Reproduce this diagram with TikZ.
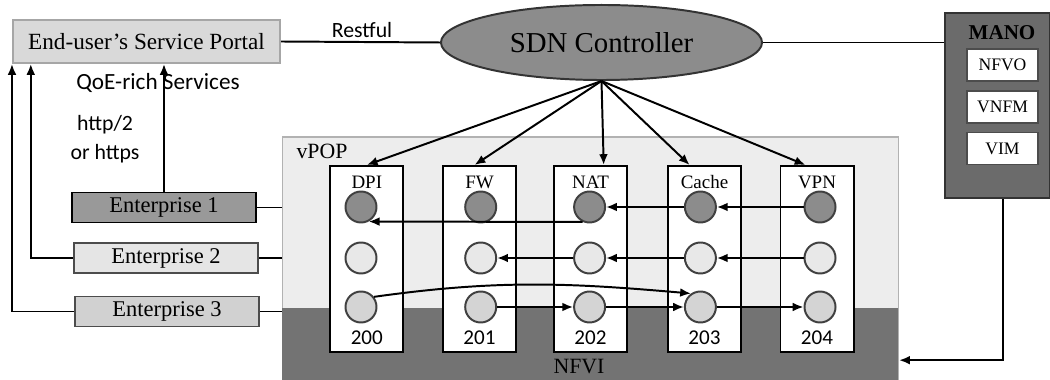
\documentclass[tikz,border=0pt]{standalone}
\usepackage{fontspec}
\setmainfont{Liberation Serif}
\newfontfamily\calfont{Carlito}
\usepackage{tikz}
\usetikzlibrary{arrows.meta,shapes.geometric}

\begin{document}
\begin{tikzpicture}[x=0.025cm, y=0.025cm, line width=1.4pt,
    vnfbox/.style={draw, fill=white, minimum width=1.825cm, minimum height=4.65cm},
    vnflbl/.style={font=\fontsize{13.5}{16}\selectfont},
    vnfnum/.style={font=\calfont\fontsize{15}{18}\selectfont},
    port/.style={circle, draw=black!75, inner sep=0pt, minimum size=0.775cm},
    entbox/.style={draw, minimum width=4.6cm, minimum height=0.75cm, font=\fontsize{16}{19}\selectfont},
    manobox/.style={draw=black!70, fill=white, minimum width=1.775cm, minimum height=0.8cm, font=\fontsize{12.5}{15}\selectfont},
    flow/.style={-{Latex[length=0.27cm,width=0.22cm]}}]
    \useasboundingbox (0,0) rectangle (1050,380);

    % portal, controller and MANO
    \node[draw=black!35, fill=black!15, minimum width=6.675cm, minimum height=1.075cm, font=\fontsize{16.5}{19}\selectfont] (portal) at (146.5,338.5) {End-user's Service Portal};
    \node[ellipse, draw=black!80, fill=black!45, minimum width=8.025cm, minimum height=1.875cm, font=\fontsize{20.5}{24}\selectfont] (ctrl) at (601.5,337.5) {SDN Controller};
    \node[font=\calfont\fontsize{15.5}{18}\selectfont] (rest) at (362,350) {Restful};
    \draw (portal.east) -- (ctrl.west);

    \node[draw=black!80, fill=black!58, minimum width=2.625cm, minimum height=4.625cm] (mano) at (997.5,274.5) {};
    \node[font=\bfseries\fontsize{15}{18}\selectfont] (manolbl) at (1002,347) {MANO};
    \node[manobox] (nfvo) at (1002.5,315) {NFVO};
    \node[manobox] (vnfm) at (1002.5,273) {VNFM};
    \node[manobox] (vim) at (1002.5,231.5) {VIM};
    \draw (ctrl.east) -- (ctrl.east -| mano.west);

    % vPOP over the NFVI
    \node[draw=black!30, line width=0.8pt, fill=black!7, minimum width=15.39cm, minimum height=6.075cm] (vpop) at (590.25,121.5) {};
    \node[fill=black!55, minimum width=15.39cm, minimum height=1.8cm] (nfvi) at (590.25,36) {};
    \node[font=\fontsize{15.5}{18}\selectfont] (vpoplbl) at (322,229) {vPOP};
    \node[font=\fontsize{15.5}{18}\selectfont] (nfvilbl) at (579,13) {NFVI};
    \draw[flow] (nfvo.south |- mano.south) |- (nfvi.-3);

    \node[vnfbox] (dpi) at (366.8,121) {};
    \node[vnfbox] (fw) at (479.5,121) {};
    \node[vnfbox] (nat) at (590.5,121) {};
    \node[vnfbox] (cache) at (704.5,121) {};
    \node[vnfbox] (vpn) at (817,121) {};
    \node[vnflbl] (dpilbl) at (366.8,198) {DPI};
    \node[vnflbl] (fwlbl) at (479.5,198) {FW};
    \node[vnflbl] (natlbl) at (590.5,198) {NAT};
    \node[vnflbl] (cachelbl) at (704.5,198) {Cache};
    \node[vnflbl] (vpnlbl) at (817,198) {VPN};
    \node[vnfnum] (dpinum) at (366.8,42) {200};
    \node[vnfnum] (fwnum) at (479.5,42) {201};
    \node[vnfnum] (natnum) at (590.5,42) {202};
    \node[vnfnum] (cachenum) at (704.5,42) {203};
    \node[vnfnum] (vpnnum) at (817,42) {204};

    % ports, three chains
    \node[port, fill=black!45] (dpi1) at (361,173) {};
    \node[port, fill=black!45] (fw1) at (480.7,173) {};
    \node[port, fill=black!45] (nat1) at (589.6,173) {};
    \node[port, fill=black!45] (cache1) at (700.4,173) {};
    \node[port, fill=black!45] (vpn1) at (820,173) {};
    \node[port, fill=black!9] (dpi2) at (361,122) {};
    \node[port, fill=black!9] (fw2) at (480.7,122) {};
    \node[port, fill=black!9] (nat2) at (589.6,122) {};
    \node[port, fill=black!9] (cache2) at (700.4,122) {};
    \node[port, fill=black!9] (vpn2) at (820,122) {};
    \node[port, fill=black!17] (dpi3) at (361,73) {};
    \node[port, fill=black!17] (fw3) at (480.7,73) {};
    \node[port, fill=black!17] (nat3) at (589.6,73) {};
    \node[port, fill=black!17] (cache3) at (700.4,73) {};
    \node[port, fill=black!17] (vpn3) at (820,73) {};

    \draw[flow] (ctrl.south) -- (dpi.north);
    \draw[flow] (ctrl.south) -- (fw.93);
    \draw[flow] (ctrl.south) -- (nat.82);
    \draw[flow] (ctrl.south) -- (cache.99);
    \draw[flow] (ctrl.south) -- (vpn.97);

    \draw[flow] (vpn1) -- (cache1);
    \draw[flow] (cache1) -- (nat1);
    \draw[flow] (nat1.245) -- (dpi1.-62);
    \draw[flow] (vpn2) -- (cache2);
    \draw[flow] (cache2) -- (nat2);
    \draw[flow] (nat2) -- (fw2);
    \draw[flow] (fw3) -- (nat3);
    \draw[flow] (nat3) -- (cache3);
    \draw[flow] (cache3) -- (vpn3);
    \draw[flow] (dpi3.38) to[out=8,in=175] (cache3.125);

    % enterprises
    \node[entbox, fill=black!40] (ent1) at (164,172.5) {Enterprise 1};
    \node[entbox, draw=black!70, fill=black!10] (ent2) at (166,122) {Enterprise 2};
    \node[entbox, draw=black!70, fill=black!18] (ent3) at (167,68.5) {Enterprise 3};
    \draw (ent1.east) -- (ent1.east -| vpop.west);
    \draw (ent2.east) -- (ent2.east -| vpop.west);
    \draw (ent3.east) -- (ent3.east -| vpop.west);
    \draw[flow] (ent1.north) -- (ent1.north |- portal.south);
    \draw[flow] (ent2.west) -| (portal.191.5);
    \draw[flow] (ent3.west) -| (portal.south west);
    \node[font=\calfont\fontsize{16.5}{19}\selectfont] (qoe) at (158,297) {QoE-rich Services};
    \node[align=center, font=\calfont\fontsize{15.5}{21}\selectfont] (proto) at (105,241) {http/2\\or https};
\end{tikzpicture}
\end{document}
